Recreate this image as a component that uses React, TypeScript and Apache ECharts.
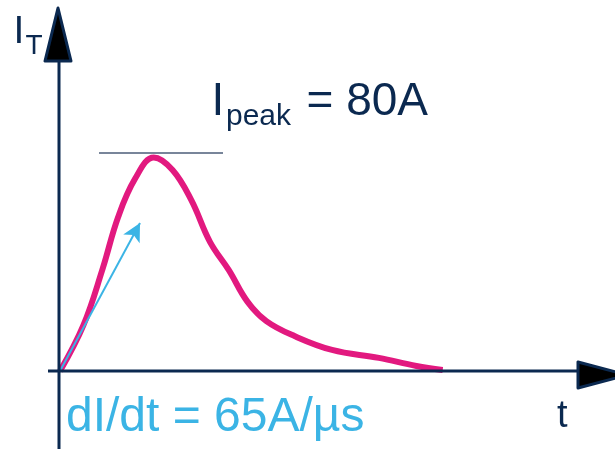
import React, { useEffect, useRef } from "react";
import * as echarts from "echarts";

// time in µs, current in A
const curveTime = [0, 0.25, 0.45, 0.62, 0.8, 1.0, 1.2, 1.4, 1.6, 1.8, 2.0, 2.2, 2.5, 2.9, 3.4, 3.8, 4.08];
const curveCurrent = [0, 17.2, 37.8, 57.7, 72, 80, 75.3, 64, 48.3, 37.8, 25.9, 18.7, 13.1, 7.9, 4.9, 1.9, 0.4];
const peakLineTime = [0.416, 1.738];
const peakLineLevel = 81.7;
const slopeArrowTime = [0, 0.853];
const slopeArrowCurrent = [0, 55.45];
const peakLabel = "80A";
const slopeLabel = "dI/dt = 65A/µs";

const NAVY = "#0b2950";
const PINK = "#e2197f";
const BLUE = "#3bb4e5";
const FONT = "'Liberation Sans', Arial, sans-serif";

export default function App() {
  const ref = useRef<HTMLDivElement>(null);
  useEffect(() => {
    if (!ref.current) return;
    const chart = echarts.init(ref.current, undefined, { renderer: "svg" });
    const pxPerUs = 93.8;
    const pxPerA = 2.669;
    const ox = 60;
    const oy = 371;
    const W = 615;
    const H = 449;
    chart.setOption({
      animation: false,
      grid: { left: 0, right: 0, top: 0, bottom: 0 },
      xAxis: {
        type: "value",
        min: -ox / pxPerUs,
        max: (W - ox) / pxPerUs,
        show: false,
      },
      yAxis: {
        type: "value",
        min: -(H - oy) / pxPerA,
        max: oy / pxPerA,
        show: false,
      },
      series: [
        {
          type: "line",
          data: curveTime.map((t, i) => [t, curveCurrent[i]]),
          smooth: 0.4,
          symbol: "none",
          lineStyle: { color: PINK, width: 6 },
          z: 3,
        },
        {
          type: "line",
          data: peakLineTime.map((t) => [t, peakLineLevel]),
          symbol: "none",
          lineStyle: { color: "#4b5d78", width: 1.5 },
          z: 2,
        },
        {
          type: "line",
          data: [],
          markLine: {
            silent: true,
            symbol: ["none", "arrow"],
            symbolSize: [14, 18],
            label: { show: false },
            lineStyle: { color: BLUE, width: 2, type: "solid" },
            data: [
              [
                { coord: [slopeArrowTime[0], slopeArrowCurrent[0]] },
                { coord: [slopeArrowTime[1], slopeArrowCurrent[1]] },
              ],
            ],
          },
          z: 4,
        },
      ],
    });
    const o = chart.convertToPixel({ gridIndex: 0 }, [0, 0]) as number[];
    const x0 = o[0] - 1;
    const y0 = o[1];
    chart.setOption({
      graphic: [
        { type: "line", shape: { x1: x0, y1: H, x2: x0, y2: 58 }, style: { stroke: NAVY, lineWidth: 3 }, z: 10 },
        { type: "line", shape: { x1: 48, y1: y0, x2: 580, y2: y0 }, style: { stroke: NAVY, lineWidth: 3 }, z: 10 },
        {
          type: "polygon",
          shape: { points: [[x0 - 1, 8], [x0 - 14, 61], [x0 + 12, 61]] },
          style: { fill: "#000", stroke: NAVY, lineWidth: 3, lineJoin: "round" },
          z: 11,
        },
        {
          type: "polygon",
          shape: { points: [[578, y0 - 9], [578, y0 + 17], [627, y0 + 4]] },
          style: { fill: "#000", stroke: NAVY, lineWidth: 3, lineJoin: "round" },
          z: 11,
        },
        { type: "text", x: 13.5, y: 29, style: { text: "I", font: `39px ${FONT}`, fill: NAVY, verticalAlign: "middle" }, z: 12 },
        { type: "text", x: 25.5, y: 44, style: { text: "T", font: `28px ${FONT}`, fill: NAVY, verticalAlign: "middle" }, z: 12 },
        { type: "text", x: 211.5, y: 98.5, style: { text: "I", font: `46px ${FONT}`, fill: NAVY, verticalAlign: "middle" }, z: 12 },
        { type: "text", x: 226, y: 114.6, style: { text: "peak", font: `30px ${FONT}`, fill: NAVY, verticalAlign: "middle" }, z: 12 },
        { type: "text", x: 306.5, y: 98.5, style: { text: "= " + peakLabel, font: `46px ${FONT}`, fill: NAVY, verticalAlign: "middle" }, z: 12 },
        { type: "text", x: 66, y: 414, style: { text: slopeLabel, font: `48px ${FONT}`, fill: BLUE, verticalAlign: "middle" }, z: 12 },
        { type: "text", x: 557, y: 414, style: { text: "t", font: `38px ${FONT}`, fill: NAVY, verticalAlign: "middle" }, z: 12 },
      ],
    });
    return () => chart.dispose();
  }, []);
  return <div ref={ref} style={{ position: "fixed", left: 0, top: 0, width: 615, height: 449 }} />;
}
